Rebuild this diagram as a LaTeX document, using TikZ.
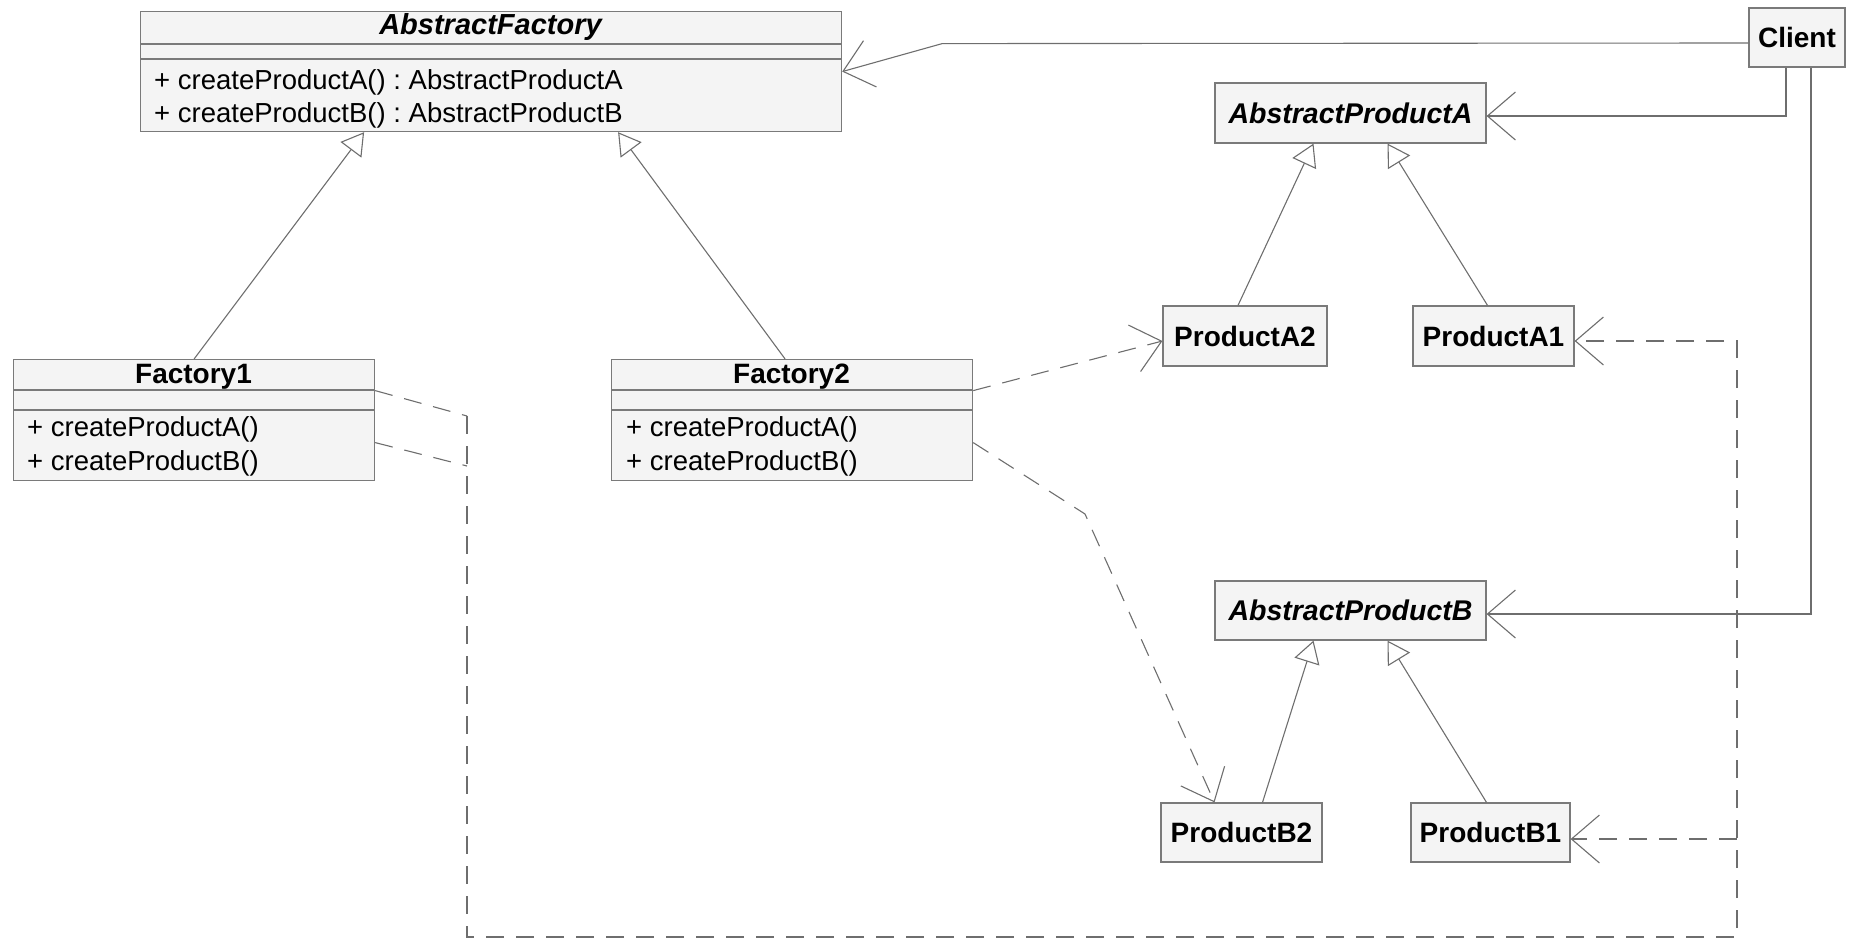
\documentclass[tikz,border=0pt]{standalone}
\usepackage{fontspec}
\setmainfont{Liberation Sans}
\usetikzlibrary{arrows.meta,calc}
\frenchspacing
\definecolor{boxfill}{HTML}{F4F4F4}
\definecolor{boxline}{HTML}{7A7A7A}
\definecolor{conn}{HTML}{6E6E6E}
\tikzset{
  umlbox/.style={draw=boxline, fill=boxfill, line width=1.2pt, inner sep=0pt, rectangle},
  cls/.style={umlbox, font=\fontsize{28}{32}\selectfont\bfseries},
  abscls/.style={umlbox, font=\fontsize{28.5}{32}\selectfont\bfseries\itshape},
  ttl/.style={inner sep=0pt, font=\fontsize{28}{32}\selectfont\bfseries},
  mth/.style={inner sep=0pt, anchor=west, font=\fontsize{27.5}{31}\selectfont},
  sep/.style={draw=boxline, line width=1.2pt},
  assoc/.style={draw=conn, line width=1.1pt, -{Straight Barb[length=28pt,width=48pt]}},
  gen/.style={draw=conn, line width=1.1pt, -{Triangle[open,length=22pt,width=26pt,fill=white]}},
  dep/.style={draw=conn, line width=1.1pt, dash pattern=on 18pt off 12pt},
  deparrow/.style={dep, -{Straight Barb[length=28pt,width=48pt]}}
}
\begin{document}
\begin{tikzpicture}[x=1pt,y=-1pt]
\useasboundingbox (0,0) rectangle (1863,939);
% AbstractFactory
\node[umlbox, minimum width=701pt, minimum height=120pt, anchor=north west] (af) at (140,11) {};
\draw[sep] (140,44) -- (841,44);
\draw[sep] (140,59) -- (841,59);
\node[ttl, font=\fontsize{29}{32}\selectfont\bfseries\itshape] (aft) at (490.5,27.5) {AbstractFactory};
\node[mth] (afm1) at (154,82) {+ createProductA() : AbstractProductA};
\node[mth] (afm2) at (154,115.5) {+ createProductB() : AbstractProductB};
% Factory1
\node[umlbox, minimum width=361pt, minimum height=121pt, anchor=north west] (f1) at (13,359) {};
\draw[sep] (13,390) -- (374,390);
\draw[sep] (13,410) -- (374,410);
\node[ttl] (f1t) at (193.5,377) {Factory1};
\node[mth] (f1m1) at (27,429.5) {+ createProductA()};
\node[mth] (f1m2) at (27,463.5) {+ createProductB()};
% Factory2
\node[umlbox, minimum width=361pt, minimum height=121pt, anchor=north west] (f2) at (611,359) {};
\draw[sep] (611,390) -- (972,390);
\draw[sep] (611,410) -- (972,410);
\node[ttl] (f2t) at (791.5,377) {Factory2};
\node[mth] (f2m1) at (626,429.5) {+ createProductA()};
\node[mth] (f2m2) at (626,463.5) {+ createProductB()};
% simple classes
\node[cls, minimum width=96pt, minimum height=59pt] (client) at (1797,37.5) {Client};
\node[abscls, minimum width=271pt, minimum height=60pt] (apa) at (1350.5,113) {AbstractProductA};
\node[cls, minimum width=164pt, minimum height=60pt] (pa2) at (1245,336) {ProductA2};
\node[cls, minimum width=161pt, minimum height=60pt] (pa1) at (1493.5,336) {ProductA1};
\node[abscls, minimum width=271pt, minimum height=59pt] (apb) at (1350.5,610.5) {AbstractProductB};
\node[cls, minimum width=161pt, minimum height=59pt] (pb2) at (1241.5,832.5) {ProductB2};
\node[cls, minimum width=159pt, minimum height=59pt] (pb1) at (1490.5,832.5) {ProductB1};
% associations from Client
\draw[assoc] ([yshift=-5.5pt]client.west) -- ([xshift=100pt,yshift=28pt]af.east) -- (af.east);
\draw[assoc] ([xshift=-11pt]client.south) |- ([yshift=-3pt]apa.east);
\draw[assoc] ([xshift=14pt]client.south) |- ([yshift=-3.5pt]apb.east);
% generalizations
\draw[gen] (f1.north) -- ([xshift=-127pt]af.south);
\draw[gen] ([xshift=-7pt]f2.north) -- ([xshift=127pt]af.south);
\draw[gen] ([xshift=-7pt]pa2.north) -- ([xshift=-37pt]apa.south);
\draw[gen] ([xshift=-6pt]pa1.north) -- ([xshift=37pt]apa.south);
\draw[gen] ([xshift=21pt]pb2.north) -- ([xshift=-37pt]apb.south);
\draw[gen] ([xshift=-4pt]pb1.north) -- ([xshift=37pt]apb.south);
% dependencies from Factory2
\draw[deparrow] ([yshift=29.5pt]f2.east) -- ([yshift=-5pt]pa2.west);
\draw[deparrow] ([yshift=-22.5pt]f2.east) -- (1085,514) -- ([xshift=-27pt]pb2.north);
% dependencies from Factory1
\coordinate (j1) at (467,416);
\coordinate (j2) at (467,466);
\coordinate (j3) at (1737,839);
\draw[dep] ([yshift=29.5pt]f1.east) -- (j1);
\draw[dep] ([yshift=-22.5pt]f1.east) -- (j2);
\draw[deparrow] (j1) -- (467,937) -- (1737,937) -- (1737,341) -- ([yshift=-5pt]pa1.east);
\draw[deparrow] (j3) -- ([yshift=-6.5pt]pb1.east);
\end{tikzpicture}
\end{document}
